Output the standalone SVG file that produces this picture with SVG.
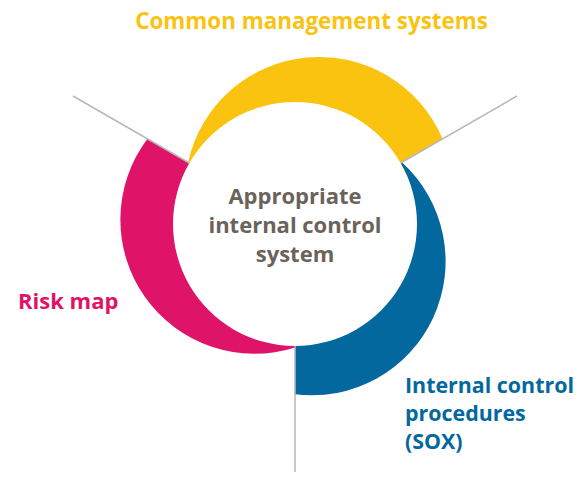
<svg xmlns="http://www.w3.org/2000/svg" width="578" height="477" viewBox="0 0 578 477">
  <style>
    text { font-family: "Open Sans", "Noto Sans", "Liberation Sans", sans-serif; font-weight: 700; }
    .center { fill: #6b635b; font-size: 22px; text-anchor: middle; }
    .yellow { fill: #fac30f; }
    .blue { fill: #02689e; }
    .pink { fill: #df1468; }
    .conn { stroke: #b8b8b8; stroke-width: 1.5; fill: none; }
  </style>
  <rect width="578" height="477" fill="#ffffff"/>
  <g id="common-management-systems">
    <path class="yellow" d="M189.35,163 L188.13,162.3 A134,134 0 0 1 442.48,138.85 L400.65,163 A122,122 0 0 0 189.35,163 Z"/>
    <text class="yellow" x="311.5" y="29" font-size="22.4" text-anchor="middle">Common management systems</text>
  </g>
  <g id="internal-control-procedures">
    <path class="blue" d="M400.65,163 L401.87,162.3 A134,134 0 0 1 295,394.3 L295,346 A122,122 0 0 0 400.65,163 Z"/>
    <text class="blue" x="405" font-size="21.4"><tspan x="405" y="393">Internal control</tspan><tspan x="405" y="421">procedures</tspan><tspan x="405" y="449">(SOX)</tspan></text>
  </g>
  <g id="risk-map">
    <path class="pink" d="M295,346 L295,347.4 A134,134 0 0 1 147.52,138.85 L189.35,163 A122,122 0 0 0 295,346 Z"/>
    <text class="pink" x="18" y="309" font-size="22">Risk map</text>
  </g>
  <g id="connectors">
    <line class="conn" x1="189.35" y1="163" x2="73" y2="96"/>
    <line class="conn" x1="400.65" y1="163" x2="517" y2="96"/>
    <line class="conn" x1="295" y1="346" x2="295" y2="472"/>
  </g>
  <g id="appropriate-internal-control-system">
    <text class="center"><tspan x="295" y="204">Appropriate</tspan><tspan x="295" y="233">internal control</tspan><tspan x="295" y="262">system</tspan></text>
  </g>
</svg>
